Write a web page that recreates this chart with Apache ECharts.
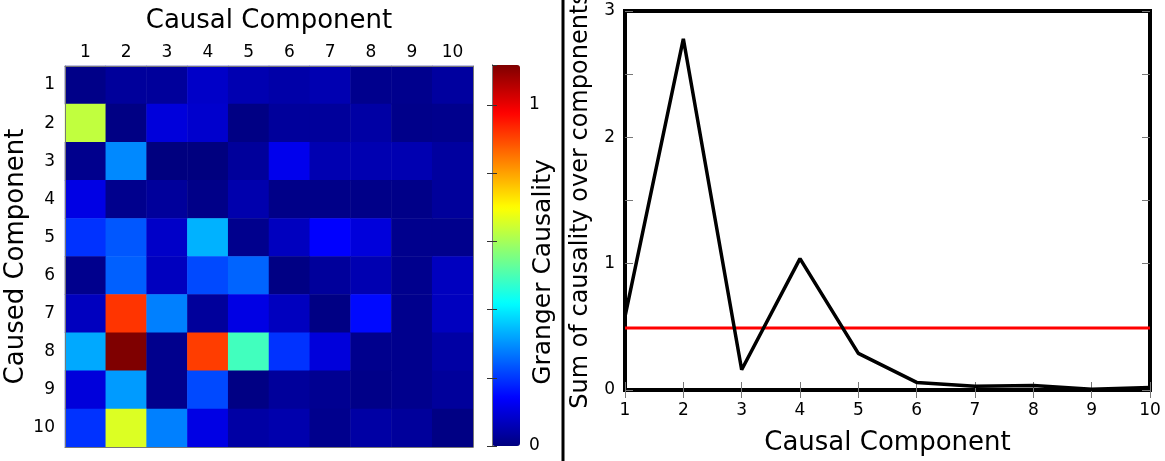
<!DOCTYPE html>
<html>
<head>
<meta charset="utf-8">
<script src="https://cdn.jsdelivr.net/npm/echarts@6/dist/echarts.min.js"></script>
<style>
html,body{margin:0;padding:0;background:#fff;}
#chart{width:1165px;height:461px;}
</style>
</head>
<body>
<div id="chart"></div>
<script>
// ---- data ----
var causalComponents = ['1','2','3','4','5','6','7','8','9','10'];
var causedComponents = ['1','2','3','4','5','6','7','8','9','10'];
// rows = caused component 1..10, columns = causal component 1..10
var grangerRow1  = [0.01, 0.03, 0.03, 0.08, 0.055, 0.045, 0.055, 0.015, 0.015, 0.035];
var grangerRow2  = [0.63, 0.005, 0.10, 0.085, 0.005, 0.03, 0.03, 0.04, 0.012, 0.015];
var grangerRow3  = [0.015, 0.29, 0.0, 0.0, 0.03, 0.12, 0.055, 0.055, 0.055, 0.035];
var grangerRow4  = [0.11, 0.015, 0.03, 0.01, 0.05, 0.01, 0.01, 0.01, 0.01, 0.03];
var grangerRow5  = [0.195, 0.235, 0.08, 0.335, 0.015, 0.07, 0.14, 0.10, 0.015, 0.015];
var grangerRow6  = [0.015, 0.245, 0.07, 0.22, 0.25, 0.005, 0.03, 0.055, 0.015, 0.07];
var grangerRow7  = [0.07, 0.92, 0.28, 0.03, 0.11, 0.07, 0.005, 0.15, 0.015, 0.07];
var grangerRow8  = [0.325, 1.117, 0.015, 0.91, 0.49, 0.195, 0.10, 0.015, 0.015, 0.04];
var grangerRow9  = [0.10, 0.31, 0.015, 0.22, 0.005, 0.03, 0.02, 0.01, 0.015, 0.03];
var grangerRow10 = [0.195, 0.66, 0.28, 0.11, 0.04, 0.05, 0.015, 0.04, 0.03, 0.005];
var grangerRows = [grangerRow1, grangerRow2, grangerRow3, grangerRow4, grangerRow5,
                   grangerRow6, grangerRow7, grangerRow8, grangerRow9, grangerRow10];
var colorbarMax = 1.117;
var colorbarTicks = [0, 1];

var lineX = [1, 2, 3, 4, 5, 6, 7, 8, 9, 10];
var causalitySum = [0.58, 2.78, 0.16, 1.04, 0.29, 0.06, 0.03, 0.035, 0.005, 0.02];
var threshold = 0.49;
var lineYTicks = [0, 1, 2, 3];

// ---- build ----
var heatData = [];
grangerRows.forEach(function (row, r) {
  row.forEach(function (v, c) { heatData.push([c, r, v]); });
});
var lineData = lineX.map(function (x, i) { return [x, causalitySum[i]]; });
var thresholdData = [[lineX[0], threshold], [lineX[lineX.length - 1], threshold]];

var FONT = 'DejaVu Sans';
var jet = ['#00007F', '#0000FF', '#007FFF', '#00FFFF', '#7FFF7F', '#FFFF00', '#FF7F00', '#FF0000', '#7F0000'];

function pickLabels(ticks) {
  return function (v) {
    for (var i = 0; i < ticks.length; i++) {
      if (Math.abs(v - ticks[i]) < 1e-6) return String(ticks[i]);
    }
    return '';
  };
}

var chart = echarts.init(document.getElementById('chart'), null, {renderer: 'canvas'});
var option = {
  animation: false,
  backgroundColor: '#ffffff',
  textStyle: {fontFamily: FONT},
  visualMap: {
    type: 'continuous',
    seriesIndex: 0,
    min: 0, max: colorbarMax,
    calculable: false,
    orient: 'vertical',
    left: 487, top: 60,
    itemWidth: 28, itemHeight: 381,
    text: null,
    showLabel: false,
    padding: 5,
    z: 2,
    inRange: {color: jet}
  },
  grid: [
    {left: 65, top: 66, width: 408, height: 381, show: false, outerBoundsMode: 'none', containLabel: false},
    {left: 492, top: 65, width: 28, height: 381, show: false, outerBoundsMode: 'none', containLabel: false},
    {left: 625, top: 11, width: 525, height: 379, show: true, borderColor: '#000', borderWidth: 4,
     backgroundColor: 'transparent', outerBoundsMode: 'none', containLabel: false}
  ],
  xAxis: [
    {
      gridIndex: 0, type: 'category', data: causalComponents, position: 'top',
      name: 'Causal Component', nameLocation: 'middle', nameGap: 32,
      nameTextStyle: {fontSize: 26, color: '#000', fontFamily: FONT},
      axisLine: {show: true, onZero: false, lineStyle: {color: '#777', width: 1}},
      axisTick: {show: false},
      axisLabel: {fontSize: 17, color: '#000', margin: 5, fontFamily: FONT},
      splitLine: {show: false}, z: 5
    },
    {
      gridIndex: 1, type: 'value', min: 0, max: 1, show: false
    },
    {
      gridIndex: 2, type: 'value', min: 1, max: 10, interval: 1, position: 'bottom',
      name: 'Causal Component', nameLocation: 'middle', nameGap: 40,
      nameTextStyle: {fontSize: 26, color: '#000', fontFamily: FONT},
      axisLine: {show: false},
      axisTick: {show: true, inside: true, length: 8, lineStyle: {color: '#777', width: 1}},
      axisLabel: {fontSize: 17, color: '#000', margin: 12, fontFamily: FONT},
      splitLine: {show: false}
    },
    {
      gridIndex: 2, type: 'value', min: 1, max: 10, interval: 1, position: 'top',
      axisLine: {show: false},
      axisTick: {show: true, inside: true, length: 8, lineStyle: {color: '#777', width: 1}},
      axisLabel: {show: false},
      splitLine: {show: false}
    },
    {
      gridIndex: 0, type: 'category', data: causalComponents, position: 'bottom',
      axisLine: {show: true, onZero: false, lineStyle: {color: '#777', width: 1}},
      axisTick: {show: false}, axisLabel: {show: false}, splitLine: {show: false}, z: 5
    }
  ],
  yAxis: [
    {
      gridIndex: 0, type: 'category', data: causedComponents, inverse: true,
      name: 'Caused Component', nameLocation: 'middle', nameGap: 33,
      nameTextStyle: {fontSize: 26, color: '#000', fontFamily: FONT},
      axisLine: {show: true, onZero: false, lineStyle: {color: '#777', width: 1}},
      axisTick: {show: false},
      axisLabel: {fontSize: 17, color: '#000', margin: 10, fontFamily: FONT},
      splitLine: {show: false}, z: 5
    },
    {
      gridIndex: 1, type: 'value', min: 0, max: colorbarMax, interval: 0.2, position: 'right',
      axisLine: {show: true, lineStyle: {color: '#777', width: 1}},
      axisTick: {show: true, inside: true, length: 5, lineStyle: {color: '#333', width: 1}},
      axisLabel: {
        fontSize: 17, color: '#000', margin: 9, fontFamily: FONT,
        showMaxLabel: false, formatter: pickLabels(colorbarTicks)
      },
      splitLine: {show: false}, z: 10
    },
    {
      gridIndex: 2, type: 'value', min: 0, max: 3, interval: 0.5, position: 'left',
      name: 'Sum of causality over components', nameLocation: 'middle', nameGap: 32,
      nameTextStyle: {fontSize: 24, color: '#000', fontFamily: FONT},
      axisLine: {show: false},
      axisTick: {show: true, inside: true, length: 8, lineStyle: {color: '#777', width: 1}},
      axisLabel: {fontSize: 17, color: '#000', margin: 10, fontFamily: FONT, formatter: pickLabels(lineYTicks)},
      splitLine: {show: false}
    },
    {
      gridIndex: 2, type: 'value', min: 0, max: 3, interval: 0.5, position: 'right',
      axisLine: {show: false},
      axisTick: {show: true, inside: true, length: 8, lineStyle: {color: '#777', width: 1}},
      axisLabel: {show: false},
      splitLine: {show: false}
    },
    {
      gridIndex: 1, type: 'value', min: 0, max: colorbarMax, interval: 0.2, position: 'left',
      axisLine: {show: true, lineStyle: {color: '#777', width: 1}},
      axisTick: {show: true, inside: true, length: 5, lineStyle: {color: '#333', width: 1}},
      axisLabel: {show: false},
      splitLine: {show: false}, z: 10
    },
    {
      gridIndex: 0, type: 'category', data: causedComponents, inverse: true, position: 'right',
      axisLine: {show: true, onZero: false, lineStyle: {color: '#777', width: 1}},
      axisTick: {show: false}, axisLabel: {show: false}, splitLine: {show: false}, z: 5
    }
  ],
  series: [
    {
      type: 'heatmap', xAxisIndex: 0, yAxisIndex: 0,
      data: heatData,
      itemStyle: {borderWidth: 0},
      emphasis: {disabled: true}
    },
    {
      type: 'line', xAxisIndex: 1, yAxisIndex: 1, data: [], silent: true
    },
    {
      type: 'line', xAxisIndex: 2, yAxisIndex: 2,
      data: lineData, showSymbol: false, symbol: 'none',
      lineStyle: {color: '#000', width: 3.5}, clip: true, z: 3
    },
    {
      type: 'line', xAxisIndex: 2, yAxisIndex: 2,
      data: thresholdData, showSymbol: false, symbol: 'none',
      lineStyle: {color: '#ff0000', width: 3}, z: 2
    }
  ],
  graphic: [
    {
      type: 'text', x: 543, y: 272, rotation: Math.PI / 2,
      style: {text: 'Granger Causality', fontSize: 25, fontFamily: FONT, fill: '#000',
              x: 0, y: 0, align: 'center', verticalAlign: 'middle',
              textAlign: 'center', textVerticalAlign: 'middle'}
    },
    {
      type: 'line', shape: {x1: 563, y1: 0, x2: 563, y2: 461},
      style: {stroke: '#000', lineWidth: 3}
    }
  ]
};
chart.setOption(option);
</script>
</body>
</html>
